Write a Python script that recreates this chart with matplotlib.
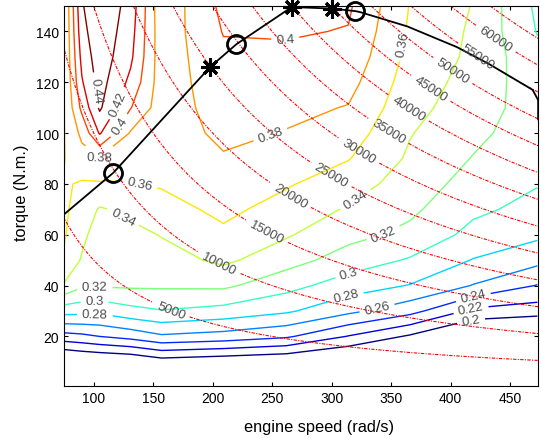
import numpy as np
import matplotlib
matplotlib.use('Agg')
import matplotlib.pyplot as plt

plt.rcParams['font.family'] = ['Liberation Sans', 'DejaVu Sans']

# grid of the efficiency map: engine speed (rad/s) x torque (N.m.)
speed = [75, 90, 105, 131, 157, 209, 262, 314, 366, 419, 473]
torque = [0, 10, 20, 30, 40, 50, 60, 70, 80, 90, 100, 110, 120, 130, 140, 150]

# efficiency, one list per speed column (torque ascending)
eff_075 = [0, 0.170, 0.232, 0.288, 0.338, 0.357, 0.362, 0.363, 0.362, 0.359, 0.359, 0.359, 0.359, 0.359, 0.359, 0.359]
eff_090 = [0, 0.175, 0.235, 0.287, 0.323, 0.338, 0.345, 0.352, 0.358, 0.372, 0.385, 0.405, 0.418, 0.426, 0.433, 0.438]
eff_105 = [0, 0.177, 0.240, 0.285, 0.322, 0.326, 0.330, 0.338, 0.358, 0.378, 0.422, 0.443, 0.448, 0.452, 0.455, 0.457]
eff_131 = [0, 0.180, 0.247, 0.294, 0.323, 0.328, 0.334, 0.345, 0.359, 0.368, 0.378, 0.401, 0.415, 0.424, 0.428, 0.432]
eff_157 = [0, 0.190, 0.257, 0.299, 0.323, 0.332, 0.341, 0.352, 0.362, 0.366, 0.368, 0.369, 0.369, 0.368, 0.367, 0.365]
eff_209 = [0, 0.185, 0.252, 0.293, 0.324, 0.344, 0.356, 0.365, 0.371, 0.378, 0.385, 0.389, 0.392, 0.396, 0.401, 0.405]
eff_262 = [0, 0.180, 0.243, 0.283, 0.307, 0.328, 0.342, 0.352, 0.362, 0.371, 0.379, 0.385, 0.390, 0.396, 0.402, 0.407]
eff_314 = [0, 0.170, 0.219, 0.265, 0.290, 0.311, 0.326, 0.338, 0.349, 0.361, 0.370, 0.379, 0.387, 0.394, 0.399, 0.403]
eff_366 = [0, 0.140, 0.197, 0.247, 0.279, 0.298, 0.315, 0.324, 0.331, 0.337, 0.341, 0.346, 0.350, 0.354, 0.357, 0.359]
eff_419 = [0, 0.100, 0.170, 0.215, 0.259, 0.279, 0.294, 0.304, 0.312, 0.319, 0.325, 0.330, 0.333, 0.336, 0.337, 0.339]
eff_473 = [0, 0.090, 0.160, 0.210, 0.239, 0.266, 0.284, 0.294, 0.301, 0.306, 0.309, 0.310, 0.308, 0.305, 0.299, 0.296]

eff_levels = [0.2, 0.22, 0.24, 0.26, 0.28, 0.3, 0.32, 0.34, 0.36, 0.38, 0.4, 0.42, 0.44]
power_levels = [5000, 10000, 15000, 20000, 25000, 30000, 35000, 40000, 45000,
                50000, 55000, 60000, 65000]

# maximum torque curve and operating points
max_speed = [75, 116.5, 197.8, 220, 266.5, 300, 320, 324, 363.5, 405.5, 433, 469, 473.6, 473.6]
max_torque = [68, 84.4, 126, 135, 149.6, 149, 148, 147.6, 142, 133.8, 127, 117, 113, 105.4]
circle_speed = [116.5, 220, 320]
circle_torque = [84.4, 135, 148]
star_speed = [197.8, 266.5, 300]
star_torque = [126, 149.6, 149]

# where the labels sit on the lines
eff_label_pos = [(103.6, 117), (118, 112), (122, 102.7), (103, 89.6), (246, 102.7),
                 (261, 136), (137, 77), (362, 135), (124.6, 67), (317, 76),
                 (101, 37.6), (343, 61), (101, 33), (315.5, 43), (101, 29),
                 (313, 34.4), (339, 29.3), (419, 35.6), (418, 29.3), (418, 24.6)]
power_label_pos = [(164, 29.3), (203.7, 47), (242, 58), (265, 75), (299, 83),
                   (320.6, 91), (346, 99.5), (364, 109), (384.5, 118.4),
                   (401, 124), (421.5, 129), (437.5, 136.6)]

eff = np.column_stack([eff_075, eff_090, eff_105, eff_131, eff_157, eff_209,
                       eff_262, eff_314, eff_366, eff_419, eff_473])

fig = plt.figure(figsize=(5.41, 4.39), dpi=100)
ax = fig.add_axes([0.1183, 0.1185, 0.8762, 0.8655])

cs = ax.contour(speed, torque, eff, levels=eff_levels, cmap='jet',
                linewidths=1.0)
ax.clabel(cs, manual=eff_label_pos, inline=True, fmt='%g', fontsize=9.5,
          colors='0.3')

# power lines: torque * speed
sp = np.linspace(74, 474, 300)
tq = np.linspace(0.5, 150, 300)
SP, TQ = np.meshgrid(sp, tq)
cp = ax.contour(SP, TQ, SP * TQ, levels=power_levels, colors='red',
                linewidths=0.8)
cp.set_linestyle((0, (3, 1.2, 1, 1.2)))
ax.clabel(cp, manual=power_label_pos, inline=True, fmt='%d', fontsize=9.5,
          colors='0.3')

ax.plot(max_speed, max_torque, color='black', linewidth=1.3)
ax.plot(circle_speed, circle_torque, 'o', markersize=13, markerfacecolor='none',
        markeredgecolor='black', markeredgewidth=2, clip_on=False, zorder=5)
ax.plot(star_speed, star_torque, marker=(8, 2, 0), linestyle='none',
        markersize=13, markeredgewidth=2.2, color='black', clip_on=False,
        zorder=5)

ax.set_xlim(75, 473.5)
ax.set_ylim(0.5, 150)
ax.set_xticks([100, 150, 200, 250, 300, 350, 400, 450])
ax.set_yticks([20, 40, 60, 80, 100, 120, 140])
ax.tick_params(direction='in', top=True, right=True, length=3, labelsize=10)
ax.set_xlabel('engine speed (rad/s)', fontsize=11.8)
ax.set_ylabel('torque (N.m.)', fontsize=11.8)
ax.xaxis.set_label_coords(0.539, -0.088)
ax.yaxis.set_label_coords(-0.073, 0.51)

fig.savefig('out.png', dpi=100)
